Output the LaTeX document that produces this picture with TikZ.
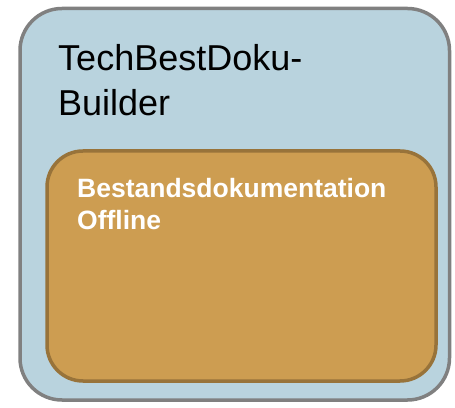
\documentclass[tikz,border=0pt]{standalone}
\usepackage{fontspec}
\setmainfont{Liberation Sans}
\usepackage{xcolor}
\definecolor{outerfill}{HTML}{B9D3DE}
\definecolor{outerline}{HTML}{808080}
\definecolor{innerfill}{HTML}{CD9D51}
\definecolor{innerline}{HTML}{98733A}
\begin{document}
\begin{tikzpicture}[x=1pt,y=1pt,
    outerbox/.style={draw=outerline, fill=outerfill, line width=3.5pt, rounded corners=42pt},
    innerbox/.style={draw=innerline, fill=innerfill, line width=3.5pt, rounded corners=36pt},
    titletext/.style={inner sep=0pt, align=left, font=\fontsize{36}{45}\selectfont},
    labeltext/.style={inner sep=0pt, align=left, text=white, font=\bfseries\fontsize{26.5}{32}\selectfont}]
    \useasboundingbox (0,0) rectangle (455,407);
    \draw[outerbox] (20,7) rectangle (449.5,398.5);
    \draw[innerbox] (47,26) rectangle (436,256);
    % base anchor sits on the last line
    \node[titletext, anchor=base west] (title) at (58,291) {TechBestDoku-\\Builder};
    \node[labeltext, anchor=base west] (label) at (77,177) {Bestandsdokumentation\\Offline};
\end{tikzpicture}
\end{document}
